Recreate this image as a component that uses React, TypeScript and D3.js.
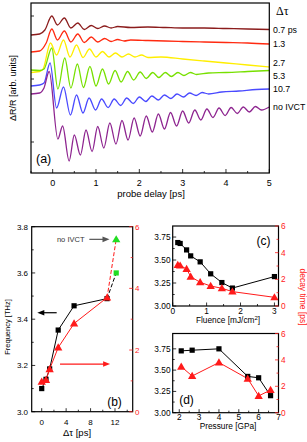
import React from "react";
import * as d3 from "d3";

type Pt = [number, number];

// (a) ΔR/R traces: [probe delay (ps), signal (arb. units, offset)]
const trace07: Pt[] = [
  [-0.5, 138], [-0.3, 139], [-0.18, 143], [-0.02, 157], [0.11, 148], [0.27, 155], [0.42, 145],
  [0.58, 150], [0.73, 143.5], [0.89, 147.5], [1.04, 144.5], [1.2, 147], [1.35, 145], [1.5, 146.5],
  [1.8, 145.5], [2.2, 146], [2.6, 145.5], [3, 145], [3.5, 145], [4, 144.5], [4.5, 144], [5, 143.5],
];
const trace13: Pt[] = [
  [-0.5, 121], [-0.3, 122], [-0.15, 130], [-0.02, 144], [0.11, 133], [0.27, 142], [0.42, 131],
  [0.58, 139], [0.73, 130.5], [0.89, 136], [1.04, 131], [1.2, 134.5], [1.35, 131.5], [1.5, 133.5],
  [1.65, 132], [1.8, 133], [2.2, 132.5], [2.6, 132], [3, 131.5], [3.5, 131], [4, 130.5], [4.5, 130], [5, 129],
];
const trace27: Pt[] = [
  [-0.5, 100.5], [-0.3, 101.5], [-0.22, 104], [-0.05, 130], [0.09, 118], [0.25, 133], [0.4, 116],
  [0.55, 128], [0.7, 115.5], [0.85, 124], [1.0, 116], [1.15, 121.5], [1.3, 116], [1.45, 120],
  [1.6, 116], [1.75, 119], [1.9, 116], [2.05, 118], [2.2, 115.5], [2.5, 116], [3, 114], [3.5, 112],
  [4, 110], [4.5, 108], [5, 106],
];
const trace53: Pt[] = [
  [-0.5, 103], [-0.3, 102.5], [-0.2, 104], [-0.02, 125], [0.12, 84], [0.28, 115], [0.42, 85],
  [0.57, 109], [0.71, 85.5], [0.86, 106.5], [1.0, 87], [1.15, 104], [1.29, 89], [1.44, 102.5],
  [1.58, 91], [1.73, 101.5], [1.87, 93], [2.02, 101], [2.16, 94.5], [2.31, 100.5], [2.45, 95.5],
  [2.6, 100.5], [2.74, 96.5], [2.89, 100.5], [3.03, 97.5], [3.18, 100.5], [3.32, 98.5], [3.6, 100],
  [4, 100.5], [4.5, 101.5], [5, 102.5],
];
const trace107: Pt[] = [
  [-0.5, 87], [-0.3, 88], [-0.2, 90], [-0.06, 110], [0.09, 65], [0.25, 86], [0.41, 58], [0.55, 78],
  [0.7, 60], [0.84, 75], [0.99, 63], [1.13, 74], [1.28, 65.5], [1.42, 74], [1.57, 67.5], [1.71, 75],
  [1.86, 69.5], [2.0, 76], [2.15, 71.5], [2.29, 77], [2.44, 73], [2.58, 78], [2.73, 74.5], [2.87, 79],
  [3.02, 76], [3.16, 80], [3.31, 77.5], [3.45, 80.5], [3.6, 79], [3.9, 81], [4.3, 82], [4.7, 83.5], [5, 84],
];
const traceNoIvct: Pt[] = [
  [-0.5, 79], [-0.3, 80], [-0.2, 85], [-0.08, 101.5], [0.12, 34], [0.23, 47], [0.38, 12], [0.5, 38],
  [0.64, 18], [0.77, 43], [0.91, 21.5], [1.04, 46.5], [1.18, 25], [1.32, 50], [1.46, 29], [1.6, 52.5],
  [1.74, 33], [1.88, 55], [2.02, 37], [2.16, 57], [2.3, 41], [2.44, 59], [2.58, 44], [2.72, 60.5],
  [2.86, 47], [3.0, 62], [3.14, 50], [3.28, 63], [3.42, 53], [3.56, 64], [3.7, 55.5], [3.84, 65],
  [3.98, 57.5], [4.12, 65.5], [4.26, 59.5], [4.4, 66], [4.54, 61], [4.68, 66.5], [4.82, 63], [5.0, 66],
];
const traces = [trace07, trace13, trace27, trace53, trace107, traceNoIvct];
const traceLabels = ["0.7 ps", "1.3", "2.7", "5.3", "10.7", "no IVCT"];
const traceColors = ["#8b1c1c", "#ff2a10", "#ffee00", "#77e000", "#4a4aff", "#8e2590"];
const delayTicks = [0, 1, 2, 3, 4, 5];

// (b) vs pump-pump delay
const dtau = [0, 0.7, 1.3, 2.7, 5.3, 10.7];
const freqDtau = [3.1, 3.14, 3.185, 3.353, 3.458, 3.489];
const decayDtau = [0.97, 1.03, 1.38, 2.08, 2.86, 3.7];
const noIvctDtau = 12.2;
const noIvctFreq = 3.6;
const noIvctDecay = 5.59;

// (c) vs fluence
const fluence = [0.15, 0.22, 0.41, 0.53, 0.81, 1.12, 1.45, 1.76, 3.0];
const freqFluence = [3.69, 3.68, 3.61, 3.545, 3.48, 3.35, 3.255, 3.195, 3.32];
const decayFluence = [3.08, 3.03, 2.78, 2.2, 1.78, 1.5, 1.33, 1.08, 0.65];

// (d) vs pressure
const pressure = [2.1, 2.65, 4.0, 5.45, 6.0, 6.6];
const freqPressure = [3.726, 3.734, 3.75, 3.426, 3.41, 3.2];
const decayPressure = [3.49, 2.78, 3.8, 2.58, 1.27, 1.72];

const SANS = "'Liberation Sans', Arial, sans-serif";
const SERIF = "'Liberation Serif', 'Times New Roman', serif";
const RED = "#ff1a1a";
const GREEN = "#22dd22";

type S = d3.ScaleLinear<number, number>;

const bottomTicks = (x: S, vals: number[], y0: number, len: number, key: string) =>
  vals.map((v) => (
    <line key={key + v} x1={x(v)} x2={x(v)} y1={y0} y2={y0 - len} stroke="#000" strokeWidth={0.8} />
  ));
const leftTicks = (y: S, vals: number[], x0: number, len: number, key: string) =>
  vals.map((v) => (
    <line key={key + v} x1={x0} x2={x0 + len} y1={y(v)} y2={y(v)} stroke="#000" strokeWidth={0.8} />
  ));
const rightTicks = (y: S, vals: number[], x0: number, len: number, key: string, color: string) =>
  vals.map((v) => (
    <line key={key + v} x1={x0} x2={x0 - len} y1={y(v)} y2={y(v)} stroke={color} strokeWidth={0.8} />
  ));

const Square = ({ x, y, fill = "#000" }: { x: number; y: number; fill?: string }) => (
  <rect x={x - 2.6} y={y - 2.6} width={5.2} height={5.2} fill={fill} />
);
const triPath = d3.symbol(d3.symbolTriangle, 30)() as string;
const Tri = ({ x, y, fill = RED }: { x: number; y: number; fill?: string }) => (
  <path d={triPath} transform={`translate(${x},${y + 0.6})`} fill={fill} />
);

const Arrow = ({ x1, x2, y, color }: { x1: number; x2: number; y: number; color: string }) => {
  const dir = Math.sign(x2 - x1);
  return (
    <g>
      <line x1={x1} x2={x2 - dir * 5} y1={y} y2={y} stroke={color} strokeWidth={1.2} />
      <path d={`M${x2},${y} L${x2 - dir * 7},${y - 2.8} L${x2 - dir * 7},${y + 2.8} Z`} fill={color} />
    </g>
  );
};

const PanelA = () => {
  const L = 31, R = 269.3, T = 3, B = 173;
  const x = d3.scaleLinear([-0.5, 5], [L, R]);
  const y = d3.scaleLinear([0, 170], [B, T]);
  const line = d3.line<Pt>().x((d) => x(d[0])).y((d) => y(d[1])).curve(d3.curveMonotoneX);
  const labelShift = [0, 0, -4, 5, 0, 0];
  return (
    <g>
      {traces.map((tr, i) => (
        <path key={i} d={line(tr) as string} fill="none" stroke={traceColors[i]} strokeWidth={1.3} />
      ))}
      <rect x={L} y={T} width={R - L} height={B - T} fill="none" stroke="#000" strokeWidth={1.2} />
      {bottomTicks(x, delayTicks, B, 4, "ma")}
      {bottomTicks(x, d3.range(-0.5, 5, 1), B, 2, "mi")}
      {leftTicks(y, [31, 94, 157], L, 3, "ya")}
      {delayTicks.map((v) => (
        <text key={v} x={x(v)} y={186} fontSize={9} textAnchor="middle" fontFamily={SANS}>{v}</text>
      ))}
      <text x={151} y={197} fontSize={9.5} textAnchor="middle" fontFamily={SANS}>probe delay [ps]</text>
      <text transform="translate(16,88) rotate(-90)" fontSize={9} textAnchor="middle" fontFamily={SANS}>
        ΔR/R [arb. units]
      </text>
      <text x={36} y={163} fontSize={12.5} fontFamily={SANS}>(a)</text>
      <text x={276} y={15} fontSize={12} fontFamily={SERIF}>Δτ</text>
      {traces.map((tr, i) => (
        <text key={"l" + i} x={273} y={y(tr[tr.length - 1][1]) + 3 + labelShift[i]} fontSize={8.8} fontFamily={SANS}>
          {traceLabels[i]}
        </text>
      ))}
    </g>
  );
};

const PanelB = () => {
  const L = 31.7, R = 132.7, T = 226.7, B = 411.7;
  const x = d3.scaleLinear([-1.64, 14.9], [L, R]);
  const yf = d3.scaleLinear([3.0, 3.8], [B, T]);
  const yd = d3.scaleLinear([0, 6], [B, T]);
  const fLine = d3.line<number>().x((_, i) => x(dtau[i])).y((d) => yf(d));
  const dLine = d3.line<number>().x((_, i) => x(dtau[i])).y((d) => yd(d));
  const last = dtau.length - 1;
  return (
    <g>
      <line x1={x(dtau[last])} y1={yf(freqDtau[last])} x2={x(noIvctDtau)} y2={yf(noIvctFreq)} stroke="#000" strokeWidth={1} strokeDasharray="4,2" />
      <line x1={x(dtau[last])} y1={yd(decayDtau[last])} x2={x(noIvctDtau)} y2={yd(noIvctDecay)} stroke={RED} strokeWidth={1} strokeDasharray="4,2" />
      <path d={fLine(freqDtau) as string} fill="none" stroke="#000" strokeWidth={1} />
      <path d={dLine(decayDtau) as string} fill="none" stroke={RED} strokeWidth={1} />
      {dtau.map((v, i) => <Square key={"s" + i} x={x(v)} y={yf(freqDtau[i])} />)}
      {dtau.map((v, i) => <Tri key={"t" + i} x={x(v)} y={yd(decayDtau[i])} />)}
      <Square x={x(noIvctDtau)} y={yf(noIvctFreq)} fill={GREEN} />
      <Tri x={x(noIvctDtau)} y={yd(noIvctDecay)} fill={GREEN} />
      <rect x={L} y={T} width={R - L} height={B - T} fill="none" stroke="#000" strokeWidth={1.2} />
      {bottomTicks(x, [0, 4, 8, 12], B, 3.5, "bx")}
      {bottomTicks(x, [2, 6, 10, 14], B, 2, "bxm")}
      {leftTicks(yf, [3.0, 3.2, 3.4, 3.6, 3.8], L, 3.5, "bl")}
      {leftTicks(yf, [3.1, 3.3, 3.5, 3.7], L, 2, "blm")}
      {rightTicks(yd, [0, 2, 4, 6], R, 3.5, "br", RED)}
      {rightTicks(yd, [1, 3, 5], R, 2, "brm", RED)}
      {[3.0, 3.2, 3.4, 3.6, 3.8].map((v) => (
        <text key={v} x={28} y={yf(v) + 3} fontSize={8} textAnchor="end" fontFamily={SANS}>{v.toFixed(1)}</text>
      ))}
      {[0, 2, 4, 6].map((v) => (
        <text key={v} x={135} y={yd(v) + 3} fontSize={8} fill={RED} fontFamily={SANS}>{v}</text>
      ))}
      {[0, 4, 8, 12].map((v) => (
        <text key={v} x={x(v)} y={424.5} fontSize={8} textAnchor="middle" fontFamily={SANS}>{v}</text>
      ))}
      <text x={77} y={436} fontSize={9.5} textAnchor="middle" fontFamily={SANS}>Δτ [ps]</text>
      <text transform="translate(9.5,327) rotate(-90)" fontSize={7.5} textAnchor="middle" fontFamily={SANS}>
        Frequency [THz]
      </text>
      <text x={x(4.75)} y={yd(noIvctDecay) + 2.7} fontSize={7.5} textAnchor="middle" fill="#333" fontFamily={SANS}>no IVCT</text>
      <Arrow x1={x(7.8)} x2={x(11.1)} y={yd(noIvctDecay)} color="#555" />
      <Arrow x1={x(2.45)} x2={x(-0.72)} y={yf(3.428)} color="#000" />
      <Arrow x1={x(3.0)} x2={x(11.2)} y={yd(1.546)} color={RED} />
      <text x={114.5} y={406} fontSize={12} textAnchor="middle" fontFamily={SANS}>(b)</text>
    </g>
  );
};

const SidePanel = ({
  xs, fr, dc, xDomain, fTop, T, B, xTicks, xMinor, title, tag, tagX, tagY, tickY, titleY,
}: {
  xs: number[]; fr: number[]; dc: number[]; xDomain: [number, number]; fTop: number; T: number; B: number;
  xTicks: number[]; xMinor: number[]; title: React.ReactNode; tag: string; tagX: number; tagY: number;
  tickY: number; titleY: number;
}) => {
  const L = 172.7, R = 278.5;
  const x = d3.scaleLinear(xDomain, [L, R]);
  const yf = d3.scaleLinear([3.0, fTop], [B, T]);
  const yd = d3.scaleLinear([0, 6], [B, T]);
  const fLine = d3.line<number>().x((_, i) => x(xs[i])).y((d) => yf(d));
  const dLine = d3.line<number>().x((_, i) => x(xs[i])).y((d) => yd(d));
  const fTicks = [3.0, 3.25, 3.5, 3.75];
  return (
    <g>
      <path d={fLine(fr) as string} fill="none" stroke="#000" strokeWidth={1} />
      <path d={dLine(dc) as string} fill="none" stroke={RED} strokeWidth={1} />
      {xs.map((v, i) => <Square key={"s" + i} x={x(v)} y={yf(fr[i])} />)}
      {xs.map((v, i) => <Tri key={"t" + i} x={x(v)} y={yd(dc[i])} />)}
      <rect x={L} y={T} width={R - L} height={B - T} fill="none" stroke="#000" strokeWidth={1.2} />
      {bottomTicks(x, xTicks, B, 3.5, "x")}
      {bottomTicks(x, xMinor, B, 2, "xm")}
      {leftTicks(yf, fTicks, L, 3.5, "l")}
      {leftTicks(yf, [3.125, 3.375, 3.625], L, 2, "lm")}
      {rightTicks(yd, [0, 2, 4, 6], R, 3.5, "r", RED)}
      {rightTicks(yd, [1, 3, 5], R, 2, "rm", RED)}
      {fTicks.map((v) => (
        <text key={v} x={170.5} y={yf(v) + 3} fontSize={8.3} textAnchor="end" fontFamily={SANS}>{v.toFixed(2)}</text>
      ))}
      {[0, 2, 4, 6].map((v) => (
        <text key={v} x={281} y={yd(v) + 3} fontSize={8.3} fill={RED} fontFamily={SANS}>{v}</text>
      ))}
      {xTicks.map((v) => (
        <text key={v} x={x(v)} y={tickY} fontSize={8.3} textAnchor="middle" fontFamily={SANS}>{v}</text>
      ))}
      <text x={228} y={titleY} fontSize={8.3} textAnchor="middle" fontFamily={SANS}>{title}</text>
      <text x={tagX} y={tagY} fontSize={12} textAnchor="middle" fontFamily={SANS}>{tag}</text>
    </g>
  );
};

export default function App() {
  return (
    <svg width={307} height={442} style={{ position: "absolute", left: 0, top: 0, background: "#fff" }}>
      <PanelA />
      <PanelB />
      <SidePanel
        xs={fluence} fr={freqFluence} dc={decayFluence} xDomain={[0, 3.12]} fTop={3.87} T={226} B={306}
        xTicks={[0, 1, 2, 3]} xMinor={[0.5, 1.5, 2.5]}
        title={<>Fluence [mJ/cm<tspan dy={-3} fontSize={6}>2</tspan><tspan dy={3}>]</tspan></>}
        tag="(c)" tagX={263.5} tagY={244.5} tickY={313.5} titleY={322.5}
      />
      <SidePanel
        xs={pressure} fr={freqPressure} dc={decayPressure} xDomain={[1.67, 7.0]} fTop={3.93} T={333.5} B={412.7}
        xTicks={[2, 3, 4, 5, 6, 7]} xMinor={[2.5, 3.5, 4.5, 5.5, 6.5]}
        title="Pressure [GPa]" tag="(d)" tagX={186.5} tagY={404} tickY={420} titleY={428.5}
      />
      <text transform="translate(300,297) rotate(90)" fontSize={8.5} textAnchor="middle" fill={RED} fontFamily={SANS}>
        decay time [ps]
      </text>
    </svg>
  );
}
